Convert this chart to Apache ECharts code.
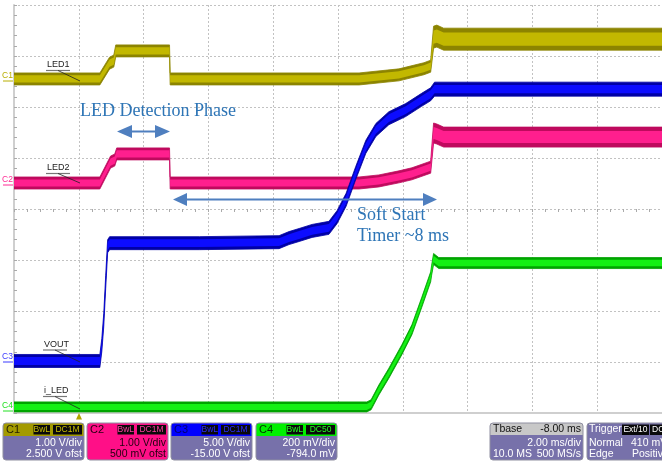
<!DOCTYPE html>
<html><head><meta charset="utf-8">
<script src="https://cdn.jsdelivr.net/npm/echarts@6/dist/echarts.min.js"></script>
<style>html,body{margin:0;padding:0;background:#fff;}#c{width:662px;height:464px;}</style>
</head><body><div id="c"></div>
<script>
// Time: ms from left edge of screen (2 ms/div, 10 div). Level: screen divisions from bottom (8 div).
const c1Time  = [0, 2.65, 2.95, 3.08, 3.14, 4.80, 4.82, 10.65, 11.88, 12.65, 12.86, 12.95, 13.05, 13.26, 20];
const c1Level = [6.55, 6.55, 6.86, 6.90, 7.10, 7.10, 6.55, 6.55, 6.63, 6.75, 6.80, 7.37, 7.39, 7.33, 7.33];

const c2Time  = [0, 2.65, 2.98, 3.11, 3.17, 4.80, 4.82, 10.65, 11.26, 11.88, 12.28, 12.86, 12.95, 13.05, 13.26, 20];
const c2Level = [4.51, 4.51, 4.92, 4.96, 5.08, 5.08, 4.51, 4.51, 4.55, 4.63, 4.69, 4.82, 5.49, 5.47, 5.41, 5.41];

const c3Time  = [0, 2.65, 2.71, 2.77, 2.83, 2.89, 2.95, 5.72, 8.18, 8.49, 8.80, 9.20, 9.72, 9.97, 10.25, 10.55, 10.86, 11.17, 11.57, 12.09, 12.58, 12.86, 12.98, 20];
const c3Level = [1.02, 1.02, 1.33, 1.82, 2.57, 3.27, 3.33, 3.33, 3.35, 3.43, 3.49, 3.57, 3.63, 3.84, 4.18, 4.71, 5.22, 5.55, 5.78, 5.94, 6.14, 6.25, 6.35, 6.35];

const c4Time  = [0, 10.89, 11.02, 11.26, 11.57, 11.97, 12.28, 12.58, 12.86, 12.89, 12.95, 13.11, 20];
const c4Level = [0.12, 0.12, 0.16, 0.45, 0.78, 1.24, 1.63, 2.16, 2.67, 2.80, 3.02, 2.94, 2.94];

const channelNames = ['LED1', 'LED2', 'VOUT', 'i_LED'];
const panelScale = ['1.00 V/div', '1.00 V/div', '5.00 V/div', '200 mV/div'];
const panelOffset = ['2.500 V ofst', '500 mV ofst', '-15.00 V ofst', '-794.0 mV'];
const tbaseTexts = ['Tbase', '-8.00 ms', '2.00 ms/div', '10.0 MS', '500 MS/s'];
const triggerTexts = ['Trigger', 'Ext/10', 'DC', 'Normal', '410 mV', 'Edge', 'Positive'];

const PX = 1 / 51;
const chans = [
  { t: c4Time, v: c4Level, hPre: 5 * PX, hPost: 5.5 * PX, step: 12.95, dark: '#00a400', light: '#14f014' },
  { t: c2Time, v: c2Level, hPre: 6 * PX, hPost: 10 * PX, step: 12.95, dark: '#bf0a5e', light: '#ff1f8e' },
  { t: c3Time, v: c3Level, hPre: 6.5 * PX, hPost: 7 * PX, step: 12.98, dark: '#0000a6', light: '#0c0cff' },
  { t: c1Time, v: c1Level, hPre: 6 * PX, hPost: 11 * PX, step: 12.95, dark: '#8c8400', light: '#c2b800' }
];
function bandPoly(api, ch, frac) {
  const up = [], lo = [];
  for (let i = 0; i < ch.t.length; i++) {
    const h = (ch.t[i] >= ch.step ? ch.hPost : ch.hPre) * frac;
    up.push(api.coord([ch.t[i], ch.v[i] + h]));
    lo.push(api.coord([ch.t[i], ch.v[i] - h]));
  }
  return up.concat(lo.reverse());
}
const series = chans.map(ch => ({
  type: 'custom', silent: true, animation: false, xAxisIndex: 0, yAxisIndex: 0,
  data: ch.t.map((t, i) => [t, ch.v[i]]),
  clip: true,
  renderItem: function (params, api) {
    if (params.dataIndex !== 0) return null;
    return { type: 'group', children: [
      { type: 'polygon', shape: { points: bandPoly(api, ch, 1) }, style: { fill: ch.dark, stroke: ch.dark, lineWidth: 0.8 } },
      { type: 'polygon', shape: { points: bandPoly(api, ch, 0.6) }, style: { fill: ch.light } }
    ] };
  }
}));

const G = [];
const SANS = 'Liberation Sans, Arial, sans-serif';
function rect(x, y, w, h, fill, stroke, r) {
  return { type: 'rect', shape: { x, y, width: w, height: h, r: r || 0 }, style: { fill: fill || 'none', stroke: stroke || null, lineWidth: 1 }, z: 50 };
}
function txt(x, y, s, fill, size, align, family, weight) {
  return { type: 'text', x, y, z: 60, style: { text: s, fill, font: (weight || 'normal') + ' ' + size + 'px ' + (family || SANS), align: align || 'left', verticalAlign: 'middle' } };
}
function line(x1, y1, x2, y2, color, w) {
  return { type: 'line', shape: { x1, y1, x2, y2 }, style: { stroke: color, lineWidth: w || 1 }, z: 55 };
}
function poly(points, fill) { return { type: 'polygon', shape: { points }, style: { fill }, z: 55 }; }

// Channel panels
const LAV = '#7771aa';
const panels = [
  { x: 3, head: '#a39a00', headTxt: '#242000', badge: '#c9bf00', body: LAV, bodyTxt: '#ffffff', name: 'C1', b2: 'DC1M' },
  { x: 87, head: '#ff0f87', headTxt: '#22000f', badge: '#ff3fa0', body: '#ff0f87', bodyTxt: '#22000f', name: 'C2', b2: 'DC1M' },
  { x: 171, head: '#0000ff', headTxt: '#00006e', badge: '#2a2aff', body: LAV, bodyTxt: '#ffffff', name: 'C3', b2: 'DC1M' },
  { x: 256, head: '#00f000', headTxt: '#003000', badge: '#20ff20', body: LAV, bodyTxt: '#ffffff', name: 'C4', b2: 'DC50' }
];
panels.forEach((p, i) => {
  G.push(rect(p.x, 423, 81, 37, p.body, null, 3));
  G.push(rect(p.x, 423, 81, 13, p.head, null, [3, 3, 0, 0]));
  G.push(rect(p.x, 423, 81, 37, null, '#8f8fa0', 3));
  G.push(txt(p.x + 3, 430, p.name, p.headTxt, 11));
  G.push(rect(p.x + 30, 424.5, 17.5, 10.5, '#0a0a0a', p.head));
  G.push(txt(p.x + 38.8, 430, 'BwL', p.badge, 8.5, 'center'));
  G.push(rect(p.x + 49.5, 424.5, 30, 10.5, '#0a0a0a', p.head));
  G.push(txt(p.x + 64.5, 430, p.b2, p.badge, 8.5, 'center'));
  G.push(txt(p.x + 79, 443, panelScale[i], p.bodyTxt, 10.5, 'right'));
  G.push(txt(p.x + 79, 454.5, panelOffset[i], p.bodyTxt, 10.5, 'right'));
});
// Tbase panel
G.push(rect(490, 423, 93, 37, LAV, null, 3));
G.push(rect(490, 423, 93, 12, '#c8c8c8', null, [3, 3, 0, 0]));
G.push(rect(490, 423, 93, 37, null, '#8f8fa0', 3));
G.push(txt(493, 429.5, tbaseTexts[0], '#111', 10.5));
G.push(txt(581, 429.5, tbaseTexts[1], '#111', 10.5, 'right'));
G.push(txt(581, 443, tbaseTexts[2], '#fff', 10.5, 'right'));
G.push(txt(493, 454.5, tbaseTexts[3], '#fff', 10.5));
G.push(txt(581, 454.5, tbaseTexts[4], '#fff', 10.5, 'right'));
// Trigger panel
G.push(rect(587, 423, 90, 37, LAV, '#8f8fa0', 3));
G.push(txt(589, 429.5, triggerTexts[0], '#fff', 10.5));
G.push(rect(622, 424.5, 27, 10.5, '#0a0a0a'));
G.push(txt(635.5, 430, triggerTexts[1], '#fff', 8.5, 'center'));
G.push(rect(650, 424.5, 16, 10.5, '#0a0a0a'));
G.push(txt(652, 430, triggerTexts[2], '#fff', 8.5));
G.push(txt(589, 443, triggerTexts[3], '#fff', 10.5));
G.push(txt(631, 443, triggerTexts[4], '#fff', 10.5));
G.push(txt(589, 454.5, triggerTexts[5], '#fff', 10.5));
G.push(txt(632, 454.5, triggerTexts[6], '#fff', 10.5));

// Trigger marker
G.push(poly([[76, 419.5], [82, 419.5], [79, 413]], '#b2a300'));

// Channel ground markers
const marks = [['C1', 76, '#b8ae00'], ['C2', 180, '#ff2a94'], ['C3', 357, '#3a3aff'], ['C4', 406, '#22e022']];
marks.forEach(m => {
  G.push(txt(2, m[1], m[0], m[2], 8.5));
  G.push(line(3, m[1] + 5, 13, m[1] + 5, m[2], 1));
});

// Trace labels with pointers
const lbls = [[47, 65, 70.5, 81], [47, 168, 173.5, 183], [44, 344.5, 350, 362], [44, 391, 396.5, 409]];
lbls.forEach((l, i) => {
  G.push(txt(l[0], l[1], channelNames[i], '#222', 9));
  G.push(line(l[0] - 1, l[2], l[0] + 23, l[2], '#777', 1.2));
  G.push(line(l[0] + 11, l[2], 80, l[3], '#222', 0.8));
});

// Annotations
const AC = '#4f7fbf', TC = '#2e75b6', SERIF = 'Liberation Serif, Times New Roman, serif';
G.push(txt(80, 111, 'LED Detection Phase', TC, 18, 'left', SERIF));
G.push(line(128, 131.5, 158, 131.5, AC, 2));
G.push(poly([[117, 131.5], [132, 125], [132, 138]], AC));
G.push(poly([[170, 131.5], [155, 125], [155, 138]], AC));
G.push(line(184, 199.5, 426, 199.5, AC, 2));
G.push(poly([[173, 199.5], [187, 193], [187, 206]], AC));
G.push(poly([[437, 199.5], [423, 193], [423, 206]], AC));
G.push(txt(357, 215.5, 'Soft Start', TC, 18, 'left', SERIF));
G.push(txt(357, 236.5, 'Timer ~8 ms', TC, 18, 'left', SERIF));

const GRIDC = '#c2c2c2';
const option = {
  backgroundColor: '#ffffff',
  animation: false,
  grid: [
    { left: 14, top: 5, width: 650, height: 408 },
    { left: 14, top: 5, width: 650, height: 204 },
    { left: 14, top: 5, width: 325, height: 408 }
  ],
  xAxis: [
    { gridIndex: 0, type: 'value', min: 0, max: 20, interval: 2, position: 'top',
      axisLine: { show: true, lineStyle: { color: '#cfcfcf', width: 2 } }, axisTick: { show: false }, axisLabel: { show: false },
      splitLine: { show: true, lineStyle: { color: GRIDC, type: [2, 2], width: 1 } } },
    { gridIndex: 1, type: 'value', min: 0, max: 20, interval: 2, position: 'bottom',
      axisLine: { show: false }, axisTick: { show: true, length: 3, lineStyle: { color: '#aaa' } },
      minorTick: { show: true, splitNumber: 5, length: 3, lineStyle: { color: '#aaa' } },
      axisLabel: { show: false }, splitLine: { show: false } },
    { gridIndex: 2, type: 'value', min: 0, max: 1, show: false }
  ],
  yAxis: [
    { gridIndex: 0, type: 'value', min: 0, max: 8, interval: 1, position: 'left',
      axisLine: { show: true, lineStyle: { color: '#cfcfcf', width: 2 } }, axisTick: { show: false }, axisLabel: { show: false },
      splitLine: { show: true, lineStyle: { color: GRIDC, type: [2, 2], width: 1 } } },
    { gridIndex: 1, type: 'value', min: 0, max: 1, show: false },
    { gridIndex: 2, type: 'value', min: 0, max: 8, interval: 1, position: 'right',
      axisLine: { show: false }, axisTick: { show: true, length: 3, lineStyle: { color: '#aaa' } },
      minorTick: { show: true, splitNumber: 5, length: 3, lineStyle: { color: '#aaa' } },
      axisLabel: { show: false }, splitLine: { show: false } }
  ],
  series: series,
  graphic: { elements: G }
};
const chart = echarts.init(document.getElementById('c'));
chart.setOption(option);
</script></body></html>
